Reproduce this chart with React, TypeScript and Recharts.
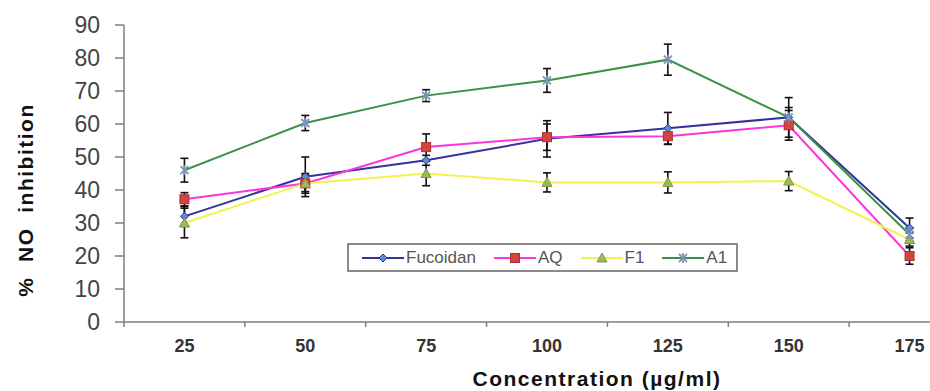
import React from 'react';
import { LineChart, Line, XAxis, YAxis, ErrorBar } from 'recharts';

const FONT = '"Liberation Sans", Arial, sans-serif';

// x categories (µg/ml) and the band edges where the axis ticks sit
const concentrations = [25, 50, 75, 100, 125, 150, 175];
const bandEdges = [12.5, 37.5, 62.5, 87.5, 112.5, 137.5, 162.5, 187.5];
const yTicks = [0, 10, 20, 30, 40, 50, 60, 70, 80, 90];

// % NO inhibition
const fucoidan = [32, 44, 49, 55.5, 58.7, 62, 28.5];
const fucoidanErr = [3, 6, 1.5, 5.5, 4.8, 3, 3];
const aq = [37.2, 42, 53, 56, 56.3, 59.6, 20];
const aqErr = [2, 3, 4, 4, 2.5, 4.5, 2.5];
const f1 = [30, 42, 45, 42.3, 42.3, 42.7, 25];
const f1Err = [4.5, 2.5, 3.7, 2.9, 3.2, 2.9, 2];
const a1 = [46, 60.3, 68.6, 73.2, 79.5, 62, 26.5];
const a1Err = [3.6, 2.3, 1.8, 3.6, 4.7, 6, 2];

const data = concentrations.map((c, i) => ({
  conc: c,
  fucoidan: fucoidan[i],
  fucoidanErr: fucoidanErr[i],
  aq: aq[i],
  aqErr: aqErr[i],
  f1: f1[i],
  f1Err: f1Err[i],
  a1: a1[i],
  a1Err: a1Err[i],
}));

type MarkerType = 'diamond' | 'square' | 'triangle' | 'star';

const series: { key: string; name: string; color: string; marker: MarkerType; fill: string; edge: string }[] = [
  { key: 'fucoidan', name: 'Fucoidan', color: '#33339a', marker: 'diamond', fill: '#5b8fd0', edge: '#33339a' },
  { key: 'aq', name: 'AQ', color: '#ff33dd', marker: 'square', fill: '#d4443f', edge: '#a83030' },
  { key: 'f1', name: 'F1', color: '#f2f250', marker: 'triangle', fill: '#9cbb58', edge: '#7c9a40' },
  { key: 'a1', name: 'A1', color: '#3d9146', marker: 'star', fill: '#7f95bd', edge: '#6a7fa8' },
];

const Marker = ({ type, cx, cy, fill, edge }: { type: MarkerType; cx: number; cy: number; fill: string; edge: string }) => {
  if (cx == null || cy == null) return <g />;
  switch (type) {
    case 'diamond':
      return <path d={`M${cx},${cy - 4} L${cx + 4},${cy} L${cx},${cy + 4} L${cx - 4},${cy} Z`} fill={fill} stroke={edge} strokeWidth={1} />;
    case 'square':
      return <rect x={cx - 4.5} y={cy - 4.5} width={9} height={9} fill={fill} stroke={edge} strokeWidth={1} />;
    case 'triangle':
      return <path d={`M${cx},${cy - 5} L${cx + 5},${cy + 4} L${cx - 5},${cy + 4} Z`} fill={fill} stroke={edge} strokeWidth={1} />;
    default:
      return (
        <g stroke={fill} strokeWidth={1.8}>
          <line x1={cx - 4} y1={cy - 4} x2={cx + 4} y2={cy + 4} />
          <line x1={cx - 4} y1={cy + 4} x2={cx + 4} y2={cy - 4} />
          <line x1={cx} y1={cy - 5} x2={cx} y2={cy + 5} />
        </g>
      );
  }
};

const XTick = (props: any) => {
  const { x, y, payload } = props;
  const v = payload.value;
  if (!concentrations.includes(v)) {
    return <line x1={x} y1={y} x2={x} y2={y + 5} stroke="#7f7f7f" strokeWidth={1.5} />;
  }
  return (
    <text x={x} y={y + 30} textAnchor="middle" fontSize={18} fontWeight="bold" fill="#333" fontFamily={FONT}>
      {v}
    </text>
  );
};

const YTitle = () => (
  <text
    x={33}
    y={200}
    transform="rotate(-90 33 200)"
    textAnchor="middle"
    fontSize={21}
    fontWeight="bold"
    letterSpacing={1.5}
    fill="#111"
    fontFamily={FONT}
    style={{ whiteSpace: 'pre' }}
  >
    {'%  NO  inhibition'}
  </text>
);

const XTitle = () => (
  <text x={597} y={386} textAnchor="middle" fontSize={21} fontWeight="bold" letterSpacing={1.5} fill="#111" fontFamily={FONT}>
    Concentration (µg/ml)
  </text>
);

const LegendBox = () => (
  <div
    style={{
      position: 'absolute',
      left: 347,
      top: 243,
      width: 391,
      height: 29,
      boxSizing: 'border-box',
      border: '2px solid #8a8a8a',
      background: '#fff',
      display: 'flex',
      alignItems: 'center',
      paddingLeft: 13,
      fontFamily: FONT,
      fontSize: 17,
      color: '#555',
    }}
  >
    {series.map((s) => (
      <div key={s.key} style={{ display: 'flex', alignItems: 'center', marginRight: 18 }}>
        <svg width={42} height={14} style={{ marginRight: 2 }}>
          <line x1={0} y1={7} x2={42} y2={7} stroke={s.color} strokeWidth={2} />
          <Marker type={s.marker} cx={21} cy={7} fill={s.fill} edge={s.edge} />
        </svg>
        <span>{s.name}</span>
      </div>
    ))}
  </div>
);

export default function App() {
  return (
    <div style={{ position: 'absolute', left: 0, top: 0, width: 930, height: 391, overflow: 'hidden', background: '#fff' }}>
      <LineChart width={980} height={391} data={data} margin={{ top: 25, right: 10, bottom: 0, left: 0 }}>
        <XAxis
          dataKey="conc"
          type="number"
          domain={[12.5, 187.5]}
          ticks={[...bandEdges, ...concentrations].sort((a, b) => a - b)}
          interval={0}
          height={69}
          tickLine={false}
          tickSize={0}
          tickMargin={0}
          tick={<XTick />}
          axisLine={{ stroke: '#7f7f7f', strokeWidth: 1.5 }}
          label={{ content: () => <XTitle /> }}
        />
        <YAxis
          domain={[0, 90]}
          ticks={yTicks}
          interval={0}
          width={124}
          tickSize={9}
          tickMargin={15}
          tick={{ fontSize: 23, fill: '#444', fontFamily: FONT }}
          tickLine={{ stroke: '#7f7f7f', strokeWidth: 1.5 }}
          axisLine={{ stroke: '#7f7f7f', strokeWidth: 1.5 }}
          label={{ content: () => <YTitle /> }}
        />
        {series.map((s) => (
          <Line
            key={s.key}
            dataKey={s.key}
            name={s.name}
            type="linear"
            stroke={s.color}
            strokeWidth={2}
            isAnimationActive={false}
            dot={(p: any) => <Marker key={`${s.key}-${p.index}`} type={s.marker} cx={p.cx} cy={p.cy} fill={s.fill} edge={s.edge} />}
            activeDot={false}
          >
            <ErrorBar dataKey={`${s.key}Err`} direction="y" width={4} strokeWidth={1.6} stroke="#111" isAnimationActive={false} />
          </Line>
        ))}
      </LineChart>
      <LegendBox />
    </div>
  );
}
